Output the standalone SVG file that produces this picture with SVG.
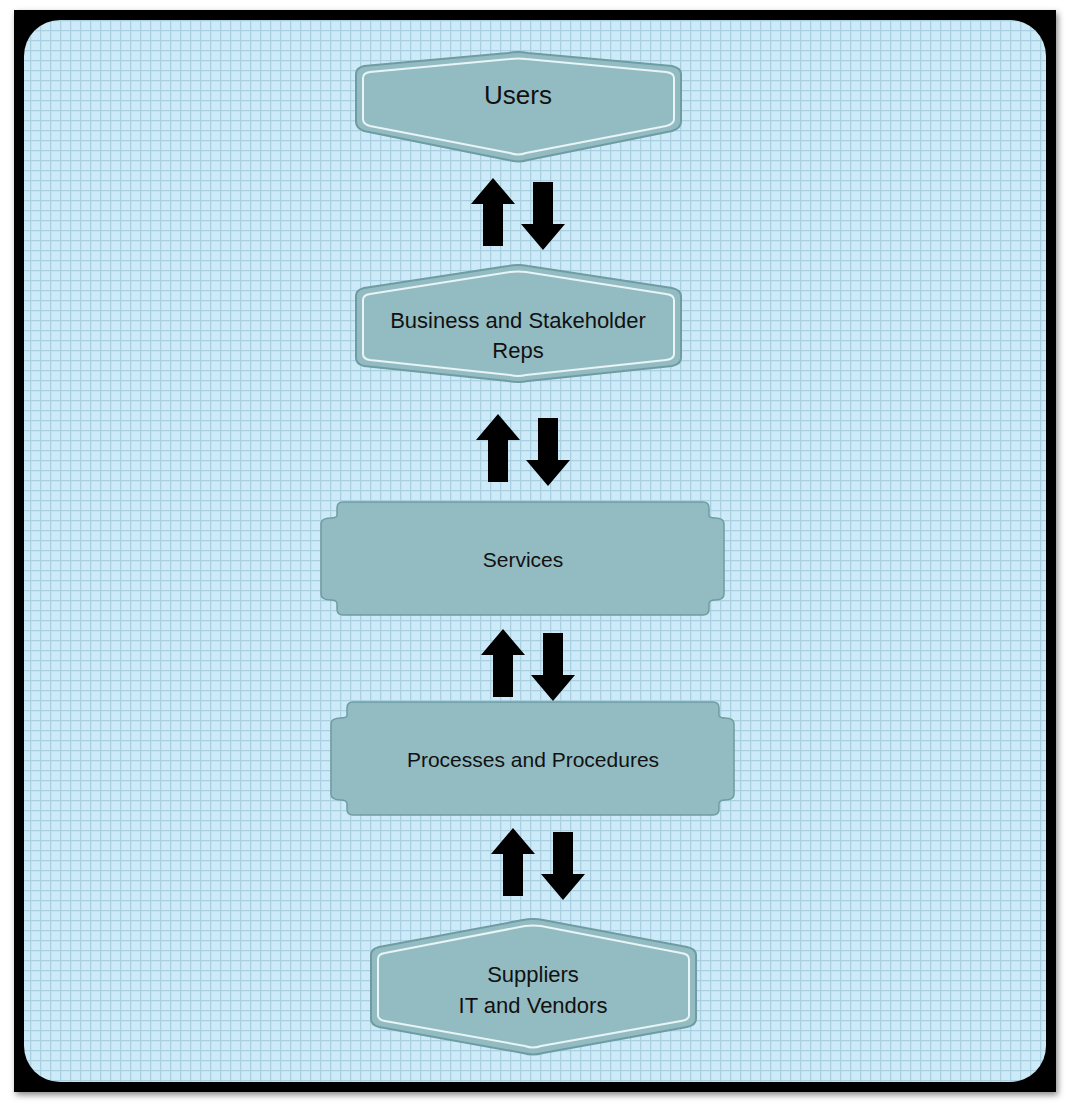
<svg xmlns="http://www.w3.org/2000/svg" width="1070" height="1110" viewBox="0 0 1070 1110">
<defs>
<pattern id="grid" width="10" height="10" patternUnits="userSpaceOnUse">
<rect width="10" height="10" fill="#cdeaf8"/>
<path d="M0 0.5H10M0.5 0V10" stroke="#a9cfe0" stroke-width="1.5"/>
</pattern>
<path id="up" d="M0 -34 L22 -8 L10 -8 L10 34 L-10 34 L-10 -8 L-22 -8 Z"/>
<filter id="sh" x="-5%" y="-5%" width="110%" height="110%"><feGaussianBlur stdDeviation="3"/></filter>
</defs>
<style>
.hex{fill:#93bcc2;stroke:#6f9ca3;stroke-width:2}
.hexin{fill:none;stroke:#e8f4f6;stroke-width:2}
.box{fill:#93bcc2;stroke:#6f9ca3;stroke-width:1.5}
.t{font-family:"Liberation Sans",Arial,sans-serif;fill:#111;text-anchor:middle}
.arr{fill:#000}
</style>
<rect x="0" y="0" width="1070" height="1110" fill="#fff"/>
<rect x="16" y="13" width="1042" height="1082" fill="#888" filter="url(#sh)"/>
<rect x="14" y="10" width="1042" height="1082" fill="#000"/>
<rect x="24" y="20" width="1022" height="1062" rx="36" fill="url(#grid)"/>

<g id="users">
<path class="hex" d="M356 74 Q356 68 364 66 L508 53 Q518 51 528 53 L672 66 Q681 68 681 74 L681 122 Q681 128 672 131 L528 160 Q518 163 508 160 L364 131 Q356 128 356 122 Z"/>
<path class="hexin" d="M363 78 Q363 73 370 72 L510 59 Q518 58 526 59 L666 72 Q674 73 674 78 L674 119 Q674 124 666 126 L526 153 Q518 156 510 153 L370 126 Q363 124 363 119 Z"/>
<text class="t" x="518" y="104" font-size="26">Users</text>
</g>

<g id="business">
<path class="hex" d="M356 296 Q356 290 364 288 L508 266 Q518 264 528 266 L672 288 Q681 290 681 296 L681 358 Q681 364 672 366 L528 381 Q518 383 508 381 L364 366 Q356 364 356 358 Z"/>
<path class="hexin" d="M363 300 Q363 295 370 294 L510 272 Q518 271 526 272 L666 294 Q674 295 674 300 L674 354 Q674 359 666 360 L526 375 Q518 377 510 375 L370 360 Q363 359 363 354 Z"/>
<text class="t" x="518" y="328" font-size="22">Business and Stakeholder</text>
<text class="t" x="518" y="358" font-size="22">Reps</text>
</g>

<g id="services">
<path class="box" d="M343 502 H703 Q709 502 709 508 V515 Q709 518 715 518 Q724 518 724 524 V594 Q724 600 715 600 Q709 600 709 604 V609 Q709 615 703 615 H343 Q337 615 337 609 V604 Q337 600 331 600 Q321 600 321 594 V524 Q321 518 331 518 Q337 518 337 515 V508 Q337 502 343 502 Z"/>
<text class="t" x="523" y="567" font-size="21">Services</text>
</g>

<g id="processes">
<path class="box" d="M353 702 H713 Q719 702 719 708 V715 Q719 718 725 718 Q734 718 734 724 V794 Q734 800 725 800 Q719 800 719 804 V809 Q719 815 713 815 H353 Q347 815 347 809 V804 Q347 800 341 800 Q331 800 331 794 V724 Q331 718 341 718 Q347 718 347 715 V708 Q347 702 353 702 Z"/>
<text class="t" x="533" y="767" font-size="21">Processes and Procedures</text>
</g>

<g id="suppliers">
<path class="hex" d="M371 955 Q371 949 379 947 L523 920 Q533 918 543 920 L687 947 Q696 949 696 955 L696 1019 Q696 1025 687 1027 L543 1053 Q533 1056 523 1053 L379 1027 Q371 1025 371 1019 Z"/>
<path class="hexin" d="M378 959 Q378 954 385 953 L525 926 Q533 925 541 926 L681 953 Q689 954 689 959 L689 1015 Q689 1020 681 1021 L541 1046 Q533 1049 525 1046 L385 1021 Q378 1020 378 1015 Z"/>
<text class="t" x="533" y="982" font-size="22">Suppliers</text>
<text class="t" x="533" y="1013" font-size="22">IT and Vendors</text>
</g>

<g id="connectors" class="arr">
<use href="#up" transform="translate(493 212)"/>
<use href="#up" transform="translate(543 216) rotate(180)"/>
<use href="#up" transform="translate(498 448)"/>
<use href="#up" transform="translate(548 452) rotate(180)"/>
<use href="#up" transform="translate(503 663)"/>
<use href="#up" transform="translate(553 667) rotate(180)"/>
<use href="#up" transform="translate(513 862)"/>
<use href="#up" transform="translate(563 866) rotate(180)"/>
</g>
</svg>
